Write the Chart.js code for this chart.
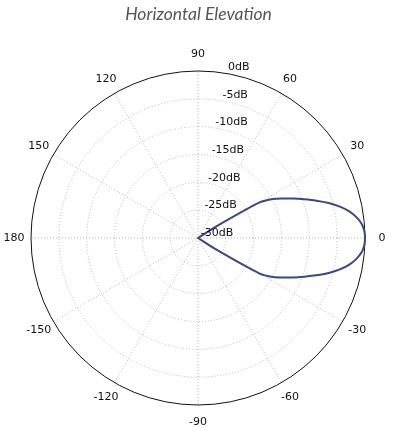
<!DOCTYPE html>
<html>
<head>
<meta charset="utf-8">
<script src="https://cdn.jsdelivr.net/npm/chart.js@4/dist/chart.umd.min.js"></script>
<style>
    html, body { margin: 0; padding: 0; background: #fff; }
    #wrap { width: 400px; height: 433px; position: relative; }
</style>
</head>
<body>
<div id="wrap"><canvas id="polarChart"></canvas></div>
<script>
// Angle tick labels, clockwise from the top (one every 12 samples)
const angleTicks = ['90', '60', '30', '0', '-30', '-60', '-90', '-120', '-150', '180', '150', '120'];

// Sample directions: 90 at the top, then clockwise in 2.5 degree steps
const angles = Array.from({ length: 144 }, (_, i) => 90 - i * 2.5);

// Level in dB for each direction (one row = 30 degrees)
const levels = [
    -30, -30, -30, -30, -30, -30, -30, -30, -30, -30, -30, -30,      // 90 .. 62.5
    -30, -30, -30, -30, -30, -30, -30, -30, -30, -30, -30, -26,      // 60 .. 32.5
    -17.2, -14.8, -13.2, -11.5, -9.7, -7.7, -5.7, -3.9, -2.4, -1.3, -0.5, -0.1, // 30 .. 2.5
    0, -0.1, -0.5, -1.3, -2.4, -3.9, -5.7, -7.7, -9.7, -11.5, -13.2, -14.8,    // 0 .. -27.5
    -17.2, -26, -30, -30, -30, -30, -30, -30, -30, -30, -30, -30,    // -30 .. -57.5
    -30, -30, -30, -30, -30, -30, -30, -30, -30, -30, -30, -30,      // -60 .. -87.5
    -30, -30, -30, -30, -30, -30, -30, -30, -30, -30, -30, -30,      // -90 .. -117.5
    -30, -30, -30, -30, -30, -30, -30, -30, -30, -30, -30, -30,      // -120 .. -147.5
    -30, -30, -30, -30, -30, -30, -30, -30, -30, -30, -30, -30,      // -150 .. -177.5
    -30, -30, -30, -30, -30, -30, -30, -30, -30, -30, -30, -30,      // 180 .. 152.5
    -30, -30, -30, -30, -30, -30, -30, -30, -30, -30, -30, -30,      // 150 .. 122.5
    -30, -30, -30, -30, -30, -30, -30, -30, -30, -30, -30, -30       // 120 .. 92.5
];

const gridGrey = '#b8b8b8';
const labelFont = '11px "DejaVu Sans"';

// Angle labels centred just outside the outer ring,
// dB labels next to the rings, slightly right of the vertical axis
const polarLabels = {
    id: 'polarLabels',
    afterDatasetsDraw(chart) {
        const r = chart.scales.r;
        const ctx = chart.ctx;
        ctx.save();
        ctx.font = labelFont;
        ctx.fillStyle = '#111';
        ctx.textAlign = 'center';
        ctx.textBaseline = 'middle';
        angleTicks.forEach((txt, k) => {
            const p = r.getPointPosition(k * 12, r.drawingArea + 17);
            ctx.fillText(txt, p.x, p.y);
        });
        r.ticks.forEach(t => {
            const p = r.getPointPositionForValue(3, t.value);
            ctx.fillText(t.value + 'dB', p.x + 19, p.y - 5);
        });
        ctx.restore();
    }
};

const ctx = document.getElementById('polarChart').getContext('2d');
new Chart(ctx, {
    type: 'radar',
    data: {
        labels: angles,
        datasets: [{
            data: levels,
            borderColor: '#3a4a7c',
            borderWidth: 2,
            fill: false,
            tension: 0.25,
            pointRadius: 0
        }]
    },
    options: {
        responsive: true,
        maintainAspectRatio: false,
        animation: false,
        layout: { padding: { left: 31, right: 34, top: 0, bottom: 28 } },
        plugins: {
            legend: { display: false },
            tooltip: { enabled: false },
            title: {
                display: true,
                text: 'Horizontal Elevation',
                color: '#555',
                font: { family: 'Lato', style: 'italic', size: 17.5, weight: 'normal' },
                padding: { top: 4, bottom: 46 }
            }
        },
        scales: {
            r: {
                min: -30,
                max: 0,
                ticks: { stepSize: 5, display: false },
                grid: {
                    circular: true,
                    color: c => c.tick && c.tick.value === 0 ? '#111' : gridGrey,
                    lineWidth: 1
                },
                border: { dash: c => c.tick && c.tick.value === 0 ? [] : [1, 2] },
                angleLines: {
                    color: c => c.index % 12 === 0 ? gridGrey : 'transparent',
                    lineWidth: c => c.index % 12 === 0 ? 1 : 0,
                    borderDash: [1, 2]
                },
                pointLabels: { display: false }
            }
        }
    },
    plugins: [polarLabels]
});
</script>
</body>
</html>
